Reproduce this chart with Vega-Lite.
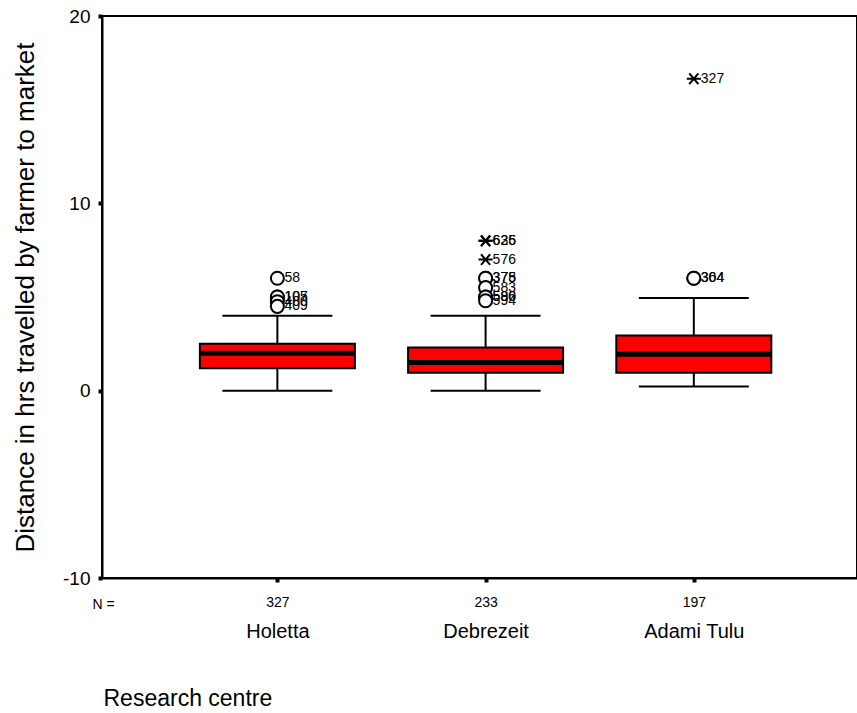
{
  "$schema": "https://vega.github.io/schema/vega-lite/v6.json",
  "width": 755,
  "height": 562,
  "autosize": {"type": "none"},
  "padding": {"left": 102, "top": 16, "right": 0, "bottom": 135},
  "background": "white",
  "config": {
    "font": "Liberation Sans",
    "view": {"stroke": "black", "strokeWidth": 2},
    "axis": {"grid": false, "domainColor": "black", "domainWidth": 2, "tickColor": "black", "labelColor": "black", "titleColor": "black", "titleFontWeight": "normal", "labelFont": "Liberation Sans", "titleFont": "Liberation Sans"}
  },
  "datasets": {
    "boxes": [
      {"centre": "Holetta", "n": 327, "lower": 0, "q1": 1.2, "median": 2.0, "q3": 2.5, "upper": 4.0},
      {"centre": "Debrezeit", "n": 233, "lower": 0, "q1": 0.95, "median": 1.5, "q3": 2.3, "upper": 4.0},
      {"centre": "Adami Tulu", "n": 197, "lower": 0.22, "q1": 0.95, "median": 1.95, "q3": 2.95, "upper": 4.95}
    ],
    "outliers": [
      {"centre": "Holetta", "value": 6.0, "case": "58", "type": "outlier"},
      {"centre": "Holetta", "value": 5.0, "case": "107", "type": "outlier"},
      {"centre": "Holetta", "value": 5.0, "case": "105", "type": "outlier"},
      {"centre": "Holetta", "value": 4.75, "case": "400", "type": "outlier"},
      {"centre": "Holetta", "value": 4.5, "case": "409", "type": "outlier"},
      {"centre": "Debrezeit", "value": 8.0, "case": "626", "type": "extreme"},
      {"centre": "Debrezeit", "value": 8.0, "case": "635", "type": "extreme"},
      {"centre": "Debrezeit", "value": 7.0, "case": "576", "type": "extreme"},
      {"centre": "Debrezeit", "value": 6.0, "case": "375", "type": "outlier"},
      {"centre": "Debrezeit", "value": 6.0, "case": "378", "type": "outlier"},
      {"centre": "Debrezeit", "value": 5.5, "case": "583", "type": "outlier"},
      {"centre": "Debrezeit", "value": 5.0, "case": "586", "type": "outlier"},
      {"centre": "Debrezeit", "value": 5.0, "case": "590", "type": "outlier"},
      {"centre": "Debrezeit", "value": 4.8, "case": "594", "type": "outlier"},
      {"centre": "Adami Tulu", "value": 6.0, "case": "364", "type": "outlier"},
      {"centre": "Adami Tulu", "value": 6.0, "case": "304", "type": "outlier"},
      {"centre": "Adami Tulu", "value": 16.65, "case": "327", "type": "extreme"}
    ]
  },
  "resolve": {"axis": {"x": "independent", "y": "independent"}},
  "layer": [
    {
      "data": {"name": "boxes"},
      "mark": {"type": "rule", "color": "black", "strokeWidth": 2, "opacity": 1},
      "encoding": {
        "x": {"field": "centre", "type": "nominal", "sort": null, "axis": null,
              "scale": {"type": "point", "domain": ["Holetta", "Debrezeit", "Adami Tulu"], "padding": 0.813, "align": 0.518}},
        "y": {"field": "lower", "type": "quantitative", "axis": null, "scale": {"domain": [-10, 20], "nice": false, "zero": false}},
        "y2": {"field": "upper"}
      }
    },
    {
      "data": {"name": "boxes"},
      "mark": {"type": "tick", "color": "black", "size": 110, "thickness": 2, "opacity": 1},
      "encoding": {
        "x": {"field": "centre", "type": "nominal", "sort": null, "axis": null},
        "y": {"field": "upper", "type": "quantitative", "axis": null}
      }
    },
    {
      "data": {"name": "boxes"},
      "mark": {"type": "tick", "color": "black", "size": 110, "thickness": 2, "opacity": 1},
      "encoding": {
        "x": {"field": "centre", "type": "nominal", "sort": null, "axis": null},
        "y": {"field": "lower", "type": "quantitative", "axis": null}
      }
    },
    {
      "data": {"name": "boxes"},
      "mark": {"type": "bar", "size": 155, "fill": "#ff0000", "stroke": "black", "strokeWidth": 2, "opacity": 1},
      "encoding": {
        "x": {"field": "centre", "type": "nominal", "sort": null,
              "axis": {"orient": "bottom", "title": "N =", "titleFontSize": 14, "titleAnchor": "start", "titleAlign": "left", "titleX": -10, "titleY": 30, "titleBaseline": "alphabetic", "titleAngle": 0,
                       "labelExpr": "datum.value == 'Holetta' ? '327' : datum.value == 'Debrezeit' ? '233' : '197'",
                       "labelFontSize": 14, "labelAngle": 0, "labelPadding": 13, "tickSize": 4, "tickWidth": 4}},
        "y": {"field": "q1", "type": "quantitative",
              "axis": {"orient": "left", "title": "Distance in hrs travelled by farmer to market", "values": [-10, 0, 10, 20],
                       "labelExpr": "datum.value < 0 ? '-' + abs(datum.value) : '' + datum.value",
                       "labelFontSize": 19, "labelPadding": 8, "tickSize": 4, "tickWidth": 4, "titleFontSize": 26, "titlePadding": 24}},
        "y2": {"field": "q3"}
      }
    },
    {
      "data": {"name": "boxes"},
      "mark": {"type": "tick", "color": "black", "size": 155, "thickness": 5, "opacity": 1},
      "encoding": {
        "x": {"field": "centre", "type": "nominal", "sort": null,
              "axis": {"orient": "bottom", "title": "Research centre", "titleFontSize": 23, "titleAnchor": "start", "titleAlign": "left", "titleX": 1, "titleY": 127, "titleBaseline": "alphabetic", "titleAngle": 0,
                       "domain": false, "ticks": false, "tickSize": 0, "labelFontSize": 20, "labelAngle": 0, "labelPadding": 43}},
        "y": {"field": "median", "type": "quantitative", "axis": null}
      }
    },
    {
      "data": {"name": "outliers"},
      "mark": {"type": "point", "filled": false, "fill": "white", "stroke": "black", "strokeWidth": 2, "opacity": 1},
      "encoding": {
        "x": {"field": "centre", "type": "nominal", "sort": null, "axis": null},
        "y": {"field": "value", "type": "quantitative", "axis": null},
        "shape": {"field": "type", "type": "nominal", "legend": null,
                  "scale": {"domain": ["outlier", "extreme"], "range": ["circle", "M-1,0L1,0M-0.65,-0.75L0.65,0.75M-0.65,0.75L0.65,-0.75"]}},
        "size": {"field": "type", "type": "nominal", "legend": null,
                 "scale": {"domain": ["outlier", "extreme"], "range": [170, 200]}}
      }
    },
    {
      "data": {"name": "outliers"},
      "mark": {"type": "text", "align": "left", "baseline": "middle", "dx": 7, "fontSize": 14, "color": "black"},
      "encoding": {
        "x": {"field": "centre", "type": "nominal", "sort": null, "axis": null},
        "y": {"field": "value", "type": "quantitative", "axis": null},
        "text": {"field": "case"}
      }
    }
  ]
}
